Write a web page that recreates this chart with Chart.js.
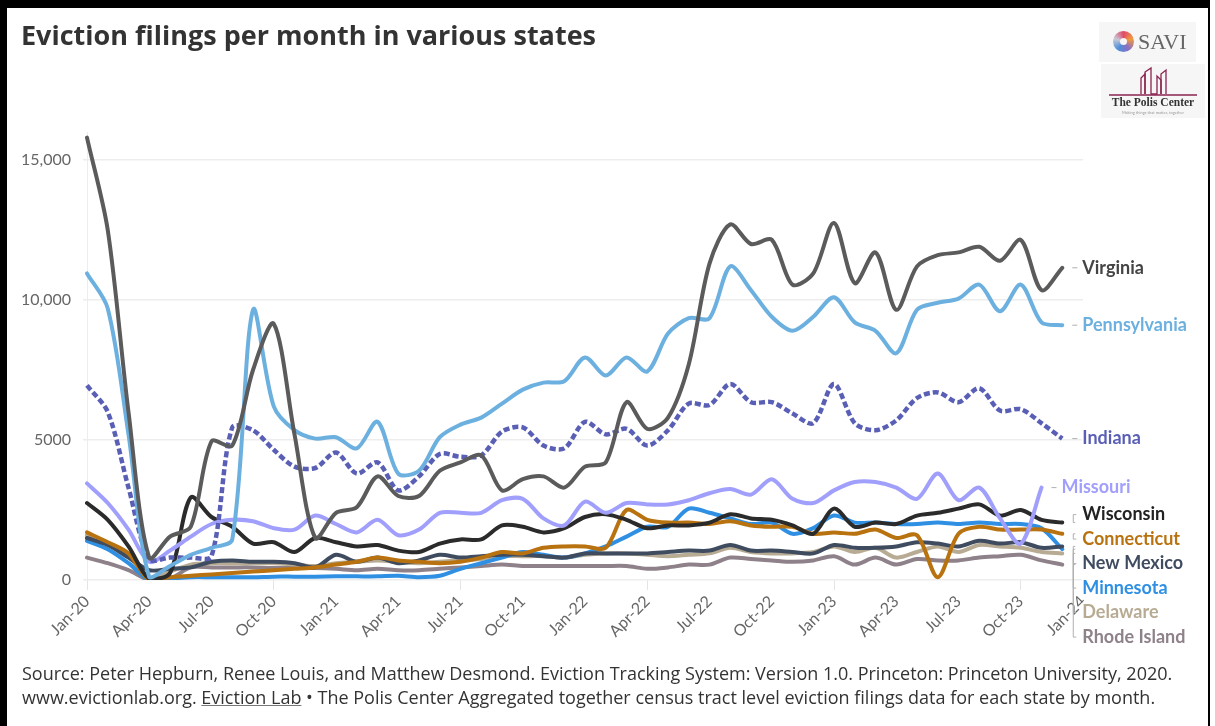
<!DOCTYPE html>
<html>
<head>
<meta charset="utf-8">
<script src="https://cdn.jsdelivr.net/npm/chart.js@4.4.1/dist/chart.umd.min.js"></script>
<style>
  body { margin: 0; background: #fff; font-family: Lato, 'Open Sans', sans-serif; }
  #page { position: relative; width: 1215px; height: 726px; overflow: hidden; background: #fff; }
  #frame { position: absolute; left: 0; top: 0; width: 1201px; height: 718px;
    border-left: 7px solid #000; border-top: 8px solid #000; border-right: 2px solid #000; }
  #chart { position: absolute; left: 0; top: 0; }
  #title { position: absolute; left: 21px; top: 16px; font-family: 'Open Sans', sans-serif; font-size: 27px; font-weight: 700; color: #333; white-space: nowrap; }
  #footer { position: absolute; left: 22px; top: 661px; font-family: 'Open Sans', sans-serif; font-size: 18px; line-height: 24px; color: #333; white-space: nowrap; }
  #footer u { text-decoration-color: #777; }
  .logo { position: absolute; background: #f6f6f6; }
  #savi { left: 1099px; top: 22px; width: 97px; height: 40px; }
  #savi .flower { position: absolute; left: 14px; top: 9px; width: 21px; height: 21px; border-radius: 50%;
    background: conic-gradient(#e04a6a, #f19a3e, #8b6fc4, #4f8fd8, #c9c9d6, #e04a6a); }
  #savi .flower::after { content: ''; position: absolute; left: 7px; top: 7px; width: 7px; height: 7px; border-radius: 50%; background: #f6f6f6; }
  #savi .txt { position: absolute; left: 39px; top: 7px; font-family: 'Liberation Serif', serif; font-size: 22px; color: #666; }
  #polis { left: 1101px; top: 64px; width: 104px; height: 54px; }
  #polis .txt { position: absolute; left: 0; width: 104px; top: 32px; text-align: center; font-family: 'Liberation Serif', serif; font-weight: 700; font-size: 11.5px; color: #333; }
  #polis .tag { position: absolute; left: 0; width: 104px; top: 46px; text-align: center; font-size: 4px; color: #999; }
</style>
</head>
<body>
<div id="page">
  <canvas id="chart" width="1215" height="726"></canvas>
  <div id="frame"></div>
  <div id="title">Eviction filings per month in various states</div>
  <div class="logo" id="savi"><div class="flower"></div><div class="txt">SAVI</div></div>
  <div class="logo" id="polis">
    <svg width="104" height="34" style="position:absolute;left:0;top:0">
      <polyline points="40,30 40,14 44,10 44,30" fill="none" stroke="#8b2350" stroke-width="1.3"/>
      <polyline points="44,30 44,8 50,4 50,30 56,30 56,12 60,16 60,30" fill="none" stroke="#8b2350" stroke-width="1.3"/>
      <polyline points="60,30 60,10 65,6 65,30" fill="none" stroke="#8b2350" stroke-width="1.3"/>
      <line x1="8" y1="31" x2="96" y2="31" stroke="#8b2350" stroke-width="1.5"/>
    </svg>
    <div class="txt">The Polis Center</div>
    <div class="tag">Making things that matter, together</div>
  </div>
  <div id="footer">
    Source: Peter Hepburn, Renee Louis, and Matthew Desmond. Eviction Tracking System: Version 1.0. Princeton: Princeton University, 2020.<br>
    www.evictionlab.org. <u>Eviction Lab</u> &bull; The Polis Center Aggregated together census tract level eviction filings data for each state by month.
  </div>
</div>
<script>
// Months Jan-20 .. Jan-24 (data runs through Dec-23)
const months = [];
['20', '21', '22', '23', '24'].forEach(yr => {
    ['Jan', 'Feb', 'Mar', 'Apr', 'May', 'Jun', 'Jul', 'Aug', 'Sep', 'Oct', 'Nov', 'Dec'].forEach(m => months.push(`${m}-${yr}`));
});
const xLabels = months.slice(0, 49);

const yTickValues = [0, 5000, 10000, 15000];
const yTickLabels = ['0', '5000', '10,000', '15,000'];

const virginia = [15800, 12500, 6000, 800, 1550, 1900, 4950, 4800, 7500, 9150, 5200, 1500,
    2400, 2600, 3700, 3000, 3000, 3900, 4200, 4450, 3200, 3600, 3700, 3300,
    4050, 4200, 6350, 5400, 5800, 7700, 11300, 12700, 12000, 12150, 10550, 10950,
    12750, 10600, 11700, 9650, 11200, 11600, 11700, 11900, 11400, 12150, 10350, 11150];
const pennsylvania = [10950, 9700, 5200, 100, 500, 900, 1150, 1450, 9650, 6200, 5350, 5050,
    5100, 4700, 5650, 3800, 3900, 5100, 5550, 5800, 6300, 6800, 7050, 7100,
    7950, 7300, 7950, 7450, 8800, 9350, 9350, 11200, 10350, 9400, 8900, 9400,
    10100, 9200, 8900, 8100, 9650, 9900, 10050, 10550, 9600, 10550, 9200, 9100];
const indiana = [6950, 6000, 3300, 750, 800, 800, 850, 5450, 5350, 4650, 4050, 4000,
    4550, 3800, 4200, 3200, 3700, 4500, 4400, 4450, 5300, 5450, 4800, 4700,
    5650, 5200, 5400, 4800, 5350, 6300, 6250, 7000, 6350, 6350, 5950, 5600,
    7000, 5600, 5350, 5700, 6500, 6700, 6350, 6850, 6050, 6100, 5600, 5050];
const missouri = [3450, 2750, 1800, 650, 1050, 1550, 2000, 2150, 2100, 1850, 1800, 2300,
    2000, 1700, 2150, 1600, 1800, 2400, 2400, 2400, 2850, 2900, 2200, 1950,
    2800, 2400, 2750, 2700, 2700, 2850, 3100, 3250, 3050, 3600, 2900, 2750,
    3200, 3500, 3500, 3300, 2900, 3800, 2850, 3300, 2200, 1300, 3300, null];
const wisconsin = [2750, 2150, 1200, 50, 250, 2950, 2250, 1900, 1300, 1350, 1000, 1500,
    1350, 1200, 1250, 1050, 1000, 1300, 1450, 1450, 1950, 1900, 1700, 1850,
    2250, 2350, 2150, 1850, 1950, 1950, 2050, 2350, 2200, 2150, 1950, 1650,
    2550, 1900, 2050, 2000, 2300, 2400, 2550, 2700, 2300, 2500, 2150, 2050];
const connecticut = [1700, 1350, 950, 0, 100, 150, 200, 250, 300, 350, 400, 450,
    550, 650, 800, 700, 650, 600, 650, 800, 1000, 950, 1150, 1200,
    1200, 1150, 2500, 2150, 2050, 2050, 2000, 2100, 1950, 1900, 1900, 1650,
    1700, 1650, 1800, 1500, 1600, 100, 1650, 1900, 1800, 1800, 1800, 1650];
const newMexico = [1500, 1250, 800, 350, 400, 450, 650, 700, 650, 650, 600, 450,
    900, 650, 800, 600, 700, 900, 800, 850, 900, 900, 850, 800,
    950, 950, 950, 950, 1000, 1050, 1050, 1250, 1050, 1050, 1000, 950,
    1250, 1150, 1150, 1200, 1350, 1300, 1200, 1400, 1300, 1350, 1150, 1200];
const minnesota = [1400, 1100, 600, 0, 50, 100, 100, 100, 100, 120, 120, 120,
    130, 130, 130, 150, 100, 150, 400, 600, 800, 1000, 900, 800,
    950, 1200, 1550, 1900, 1900, 2550, 2400, 2200, 2000, 2050, 1650, 1850,
    2300, 2050, 2050, 2000, 2000, 2050, 2000, 2050, 2000, 2000, 1850, 1100];
const delaware = [1600, 1300, 850, 50, 300, 550, 600, 600, 600, 600, 550, 500,
    600, 650, 700, 650, 600, 650, 700, 750, 850, 850, 850, 800,
    900, 950, 950, 900, 850, 900, 950, 1150, 1000, 950, 950, 1000,
    1200, 1000, 1150, 800, 1000, 1200, 1000, 1250, 1200, 1150, 1000, 950];
const rhodeIsland = [800, 600, 350, 0, 50, 450, 450, 450, 450, 430, 430, 430,
    400, 350, 400, 350, 350, 400, 450, 500, 550, 500, 500, 500,
    500, 500, 500, 400, 450, 550, 550, 800, 750, 700, 650, 700,
    850, 550, 800, 550, 750, 700, 700, 800, 850, 900, 700, 550];

const series = [
    { label: 'Virginia', data: virginia, color: '#5b5b5b', text: '#444444' },
    { label: 'Pennsylvania', data: pennsylvania, color: '#6cb0e0', text: '#6cb0e0' },
    { label: 'Indiana', data: indiana, color: '#5a5fb6', text: '#5a5fb6', dash: [6, 3] },
    { label: 'Missouri', data: missouri, color: '#a19ffc', text: '#a19ffc' },
    { label: 'Wisconsin', data: wisconsin, color: '#2b2b2b', text: '#222222' },
    { label: 'Connecticut', data: connecticut, color: '#b8720f', text: '#b8720f' },
    { label: 'New Mexico', data: newMexico, color: '#3f4c60', text: '#3f4c60' },
    { label: 'Minnesota', data: minnesota, color: '#2e8fe3', text: '#2e8fe3' },
    { label: 'Delaware', data: delaware, color: '#b8ab93', text: '#b8ab93' },
    { label: 'Rhode Island', data: rhodeIsland, color: '#8e8189', text: '#8e8189' }
];

// Direct labels at the end of each line, spread apart where they collide
const endLabels = {
    id: 'endLabels',
    afterDraw(chart) {
        const ctx = chart.ctx;
        const gap = 24.5;
        const items = chart.data.datasets.map((ds, i) => {
            let last = ds.data.length - 1;
            while (ds.data[last] == null) last--;
            const pt = chart.getDatasetMeta(i).data[last];
            return { text: ds.label, color: ds.labelColor, x: pt.x, y: pt.y };
        }).sort((a, b) => a.y - b.y);

        let prev = -Infinity;
        items.forEach(it => { it.ly = Math.max(it.y, prev + gap); prev = it.ly; });

        // lift chains of pushed labels a little, if there is room above
        for (let i = 1; i < items.length; i++) {
            if (items[i].ly > items[i].y + 0.5) {
                const s = i - 1;
                let e = i;
                while (e + 1 < items.length && Math.abs(items[e + 1].ly - items[e].ly - gap) < 0.01) e++;
                const room = s > 0 ? items[s].ly - (items[s - 1].ly + gap) : 0;
                const lift = Math.min(room, 8);
                for (let j = s; j <= e; j++) items[j].ly -= lift;
                i = e;
            }
        }

        ctx.save();
        ctx.font = 'bold 18px Lato';
        ctx.textBaseline = 'middle';
        ctx.lineWidth = 1;
        items.forEach(it => {
            const lx = it.x + 11;
            ctx.strokeStyle = '#b0b0b0';
            ctx.beginPath();
            if (Math.abs(it.ly - it.y) < 1.5) {
                ctx.moveTo(it.x + 10, it.ly);
                ctx.lineTo(it.x + 15, it.ly);
            } else {
                ctx.moveTo(lx + 2, it.y);
                ctx.lineTo(lx, it.y);
                ctx.lineTo(lx, it.ly);
                ctx.lineTo(lx + 3, it.ly);
            }
            ctx.stroke();
            ctx.strokeStyle = '#fff';
            ctx.lineWidth = 4;
            ctx.lineJoin = 'round';
            ctx.strokeText(it.text, it.x + 20, it.ly);
            ctx.fillStyle = it.color;
            ctx.fillText(it.text, it.x + 20, it.ly);
            ctx.lineWidth = 1;
        });
        ctx.restore();
    }
};

Chart.defaults.font.family = 'Lato';

new Chart(document.getElementById('chart').getContext('2d'), {
    type: 'line',
    data: {
        labels: xLabels,
        datasets: series.map(s => ({
            label: s.label,
            data: s.data,
            borderColor: s.color,
            labelColor: s.text,
            borderWidth: s.dash ? 4.5 : 4,
            borderDash: s.dash || [],
            borderCapStyle: s.dash ? 'butt' : 'round',
            borderJoinStyle: 'round',
            pointRadius: 0,
            tension: 0.3,
            fill: false,
            spanGaps: false
        }))
    },
    options: {
        responsive: false,
        animation: false,
        devicePixelRatio: 1,
        layout: { padding: { left: 8, top: 132, right: 132, bottom: 86 } },
        plugins: {
            legend: { display: false },
            tooltip: { enabled: false }
        },
        scales: {
            x: {
                offset: false,
                afterFit: scale => { scale.height = 60; },
                border: { display: false },
                grid: {
                    drawOnChartArea: false,
                    tickLength: 10,
                    color: c => c.index % 3 === 0 ? '#e4e4e4' : 'rgba(0,0,0,0)'
                },
                ticks: {
                    autoSkip: false,
                    maxRotation: 45,
                    minRotation: 45,
                    padding: 2,
                    color: '#666',
                    font: { size: 16 },
                    callback: function (val, idx) { return idx % 3 === 0 ? this.getLabelForValue(val) : null; }
                }
            },
            y: {
                min: 0,
                max: 16000,
                afterFit: scale => { scale.width = 79; },
                afterBuildTicks: scale => { scale.ticks = yTickValues.map(v => ({ value: v })); },
                border: { display: true, color: '#ededed' },
                grid: { color: '#ededed', lineWidth: 1.5, tickLength: 4 },
                ticks: {
                    padding: 12,
                    color: '#666',
                    font: { size: 16 },
                    callback: val => yTickLabels[yTickValues.indexOf(val)]
                }
            }
        }
    },
    plugins: [endLabels]
});
</script>
</body>
</html>
